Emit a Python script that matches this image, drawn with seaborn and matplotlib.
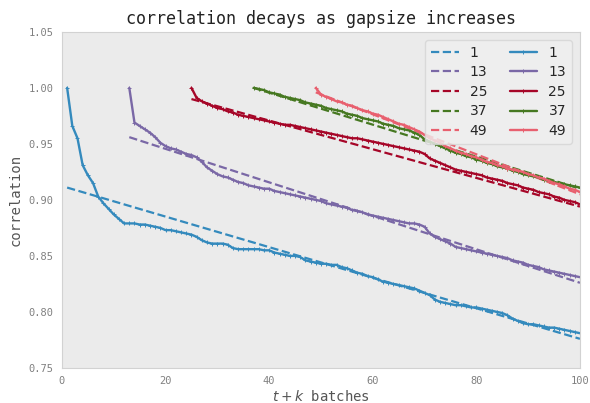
import numpy as np
import pandas as pd
import matplotlib
matplotlib.use("Agg")
import matplotlib.pyplot as plt
import seaborn as sns

# gap sizes (start batch of each series)
gaps = [1, 13, 25, 37, 49]
colors = ['#348ABD', '#7A68A6', '#A60628', '#467821', '#E8606F']

corr_1 = [1.000, 0.966, 0.955, 0.931, 0.922, 0.915, 0.903, 0.897, 0.892, 0.887,
          0.883, 0.879, 0.879, 0.879, 0.878, 0.878, 0.877, 0.876, 0.875, 0.873,
          0.873, 0.872, 0.871, 0.870, 0.869, 0.867, 0.864, 0.862, 0.861, 0.861,
          0.861, 0.860, 0.857, 0.856, 0.856, 0.856, 0.856, 0.856, 0.855, 0.855,
          0.853, 0.852, 0.851, 0.850, 0.850, 0.849, 0.846, 0.845, 0.844, 0.843,
          0.843, 0.842, 0.842, 0.840, 0.839, 0.837, 0.835, 0.834, 0.832, 0.831,
          0.829, 0.827, 0.826, 0.825, 0.824, 0.823, 0.822, 0.821, 0.819, 0.817,
          0.815, 0.811, 0.809, 0.808, 0.807, 0.806, 0.806, 0.805, 0.804, 0.804,
          0.803, 0.802, 0.801, 0.800, 0.799, 0.797, 0.794, 0.792, 0.790, 0.789,
          0.789, 0.788, 0.787, 0.786, 0.786, 0.785, 0.784, 0.783, 0.782, 0.781]

corr_13 = [1.000, 0.969, 0.966, 0.963, 0.960, 0.956, 0.951, 0.948, 0.946, 0.945,
           0.943, 0.941, 0.940, 0.938, 0.934, 0.929, 0.926, 0.923, 0.921, 0.920,
           0.918, 0.916, 0.915, 0.913, 0.912, 0.911, 0.910, 0.910, 0.908, 0.907,
           0.906, 0.905, 0.904, 0.903, 0.902, 0.901, 0.900, 0.899, 0.897, 0.896,
           0.895, 0.894, 0.893, 0.891, 0.890, 0.889, 0.887, 0.886, 0.885, 0.884,
           0.883, 0.882, 0.881, 0.880, 0.879, 0.879, 0.878, 0.876, 0.870, 0.867,
           0.865, 0.863, 0.861, 0.858, 0.857, 0.856, 0.855, 0.854, 0.853, 0.852,
           0.851, 0.850, 0.849, 0.848, 0.846, 0.845, 0.844, 0.842, 0.841, 0.840,
           0.838, 0.837, 0.836, 0.835, 0.834, 0.833, 0.832, 0.831]

corr_25 = [1.000, 0.991, 0.988, 0.986, 0.984, 0.982, 0.981, 0.979, 0.978, 0.976,
           0.975, 0.974, 0.973, 0.972, 0.971, 0.970, 0.969, 0.968, 0.967, 0.967,
           0.966, 0.965, 0.964, 0.963, 0.962, 0.961, 0.960, 0.959, 0.958, 0.957,
           0.956, 0.955, 0.955, 0.954, 0.953, 0.952, 0.951, 0.950, 0.949, 0.948,
           0.947, 0.946, 0.945, 0.944, 0.943, 0.941, 0.937, 0.935, 0.933, 0.931,
           0.929, 0.927, 0.926, 0.925, 0.924, 0.923, 0.922, 0.920, 0.919, 0.918,
           0.917, 0.915, 0.914, 0.913, 0.911, 0.910, 0.909, 0.907, 0.906, 0.905,
           0.903, 0.902, 0.900, 0.899, 0.898, 0.896]

corr_37 = [1.000, 0.999, 0.998, 0.996, 0.995, 0.994, 0.992, 0.991, 0.990, 0.989,
           0.987, 0.986, 0.985, 0.984, 0.982, 0.981, 0.980, 0.979, 0.977, 0.976,
           0.975, 0.973, 0.972, 0.971, 0.970, 0.968, 0.967, 0.966, 0.964, 0.963,
           0.962, 0.960, 0.958, 0.954, 0.952, 0.950, 0.948, 0.946, 0.944, 0.942,
           0.941, 0.939, 0.938, 0.936, 0.935, 0.933, 0.932, 0.930, 0.929, 0.928,
           0.926, 0.925, 0.923, 0.922, 0.921, 0.920, 0.918, 0.917, 0.916, 0.915,
           0.914, 0.913, 0.912, 0.911]

corr_49 = [1.000, 0.994, 0.992, 0.990, 0.988, 0.987, 0.985, 0.984, 0.982, 0.980,
           0.979, 0.977, 0.976, 0.974, 0.972, 0.970, 0.968, 0.967, 0.965, 0.963,
           0.961, 0.958, 0.955, 0.953, 0.951, 0.948, 0.946, 0.944, 0.942, 0.941,
           0.939, 0.938, 0.936, 0.934, 0.933, 0.931, 0.930, 0.928, 0.927, 0.926,
           0.925, 0.923, 0.922, 0.920, 0.919, 0.917, 0.915, 0.914, 0.912, 0.910,
           0.909, 0.907]

# dashed trend lines: value at the first batch and at batch 100
trend_start = [0.911, 0.956, 0.990, 1.000, 0.996]
trend_end = [0.776, 0.826, 0.894, 0.910, 0.905]
last_batch = 100

series = [corr_1, corr_13, corr_25, corr_37, corr_49]

sns.set_style("white", {"axes.facecolor": "#EBEBEB", "axes.edgecolor": "#D2D2D2"})
plt.rcParams['font.family'] = ['DejaVu Sans Mono']
plt.rcParams['mathtext.fontset'] = 'dejavusans'

fig, ax = plt.subplots(figsize=(5.9, 4.03), dpi=100)
fig.subplots_adjust(left=0.105, right=0.983, top=0.921, bottom=0.087)

for g, c, s0, s1 in zip(gaps, colors, trend_start, trend_end):
    trend = pd.DataFrame({'batch': [g, last_batch], 'corr': [s0, s1]})
    sns.lineplot(data=trend, x='batch', y='corr', color=c, linestyle='--',
                 linewidth=1.6, label=str(g), ax=ax)

for g, c, vals in zip(gaps, colors, series):
    df = pd.DataFrame({'batch': np.arange(g, g + len(vals)), 'corr': vals})
    sns.lineplot(data=df, x='batch', y='corr', color=c, linewidth=1.7,
                 marker='+', markersize=3.5, markeredgewidth=0.7,
                 markeredgecolor=c, label=str(g), ax=ax)

ax.set_xlim(0, 100)
ax.set_ylim(0.75, 1.05)
ax.set_xticks([0, 20, 40, 60, 80, 100])
ax.set_yticks([0.75, 0.80, 0.85, 0.90, 0.95, 1.00, 1.05])
ax.set_yticklabels([f"{v:.2f}" for v in ax.get_yticks()])
ax.tick_params(labelsize=7.5, labelcolor='#808080', length=0, pad=6)

ax.set_title('correlation decays as gapsize increases', fontsize=12, color='#222222')
ax.set_xlabel('$t+k$ batches', fontsize=10, color='#555555', labelpad=2)
ax.set_ylabel('correlation', fontsize=10, color='#555555')

handles, labels = ax.get_legend_handles_labels()
leg = ax.legend(handles, labels, ncol=2, loc='upper right', frameon=True,
                prop={'family': 'DejaVu Sans', 'size': 10},
                columnspacing=1.6, handlelength=2.0, labelspacing=0.4,
                borderaxespad=0.6)
leg.get_frame().set_facecolor('#F0F0F0')
leg.get_frame().set_edgecolor('#D5D5D5')

plt.savefig('out.png', dpi=100)
